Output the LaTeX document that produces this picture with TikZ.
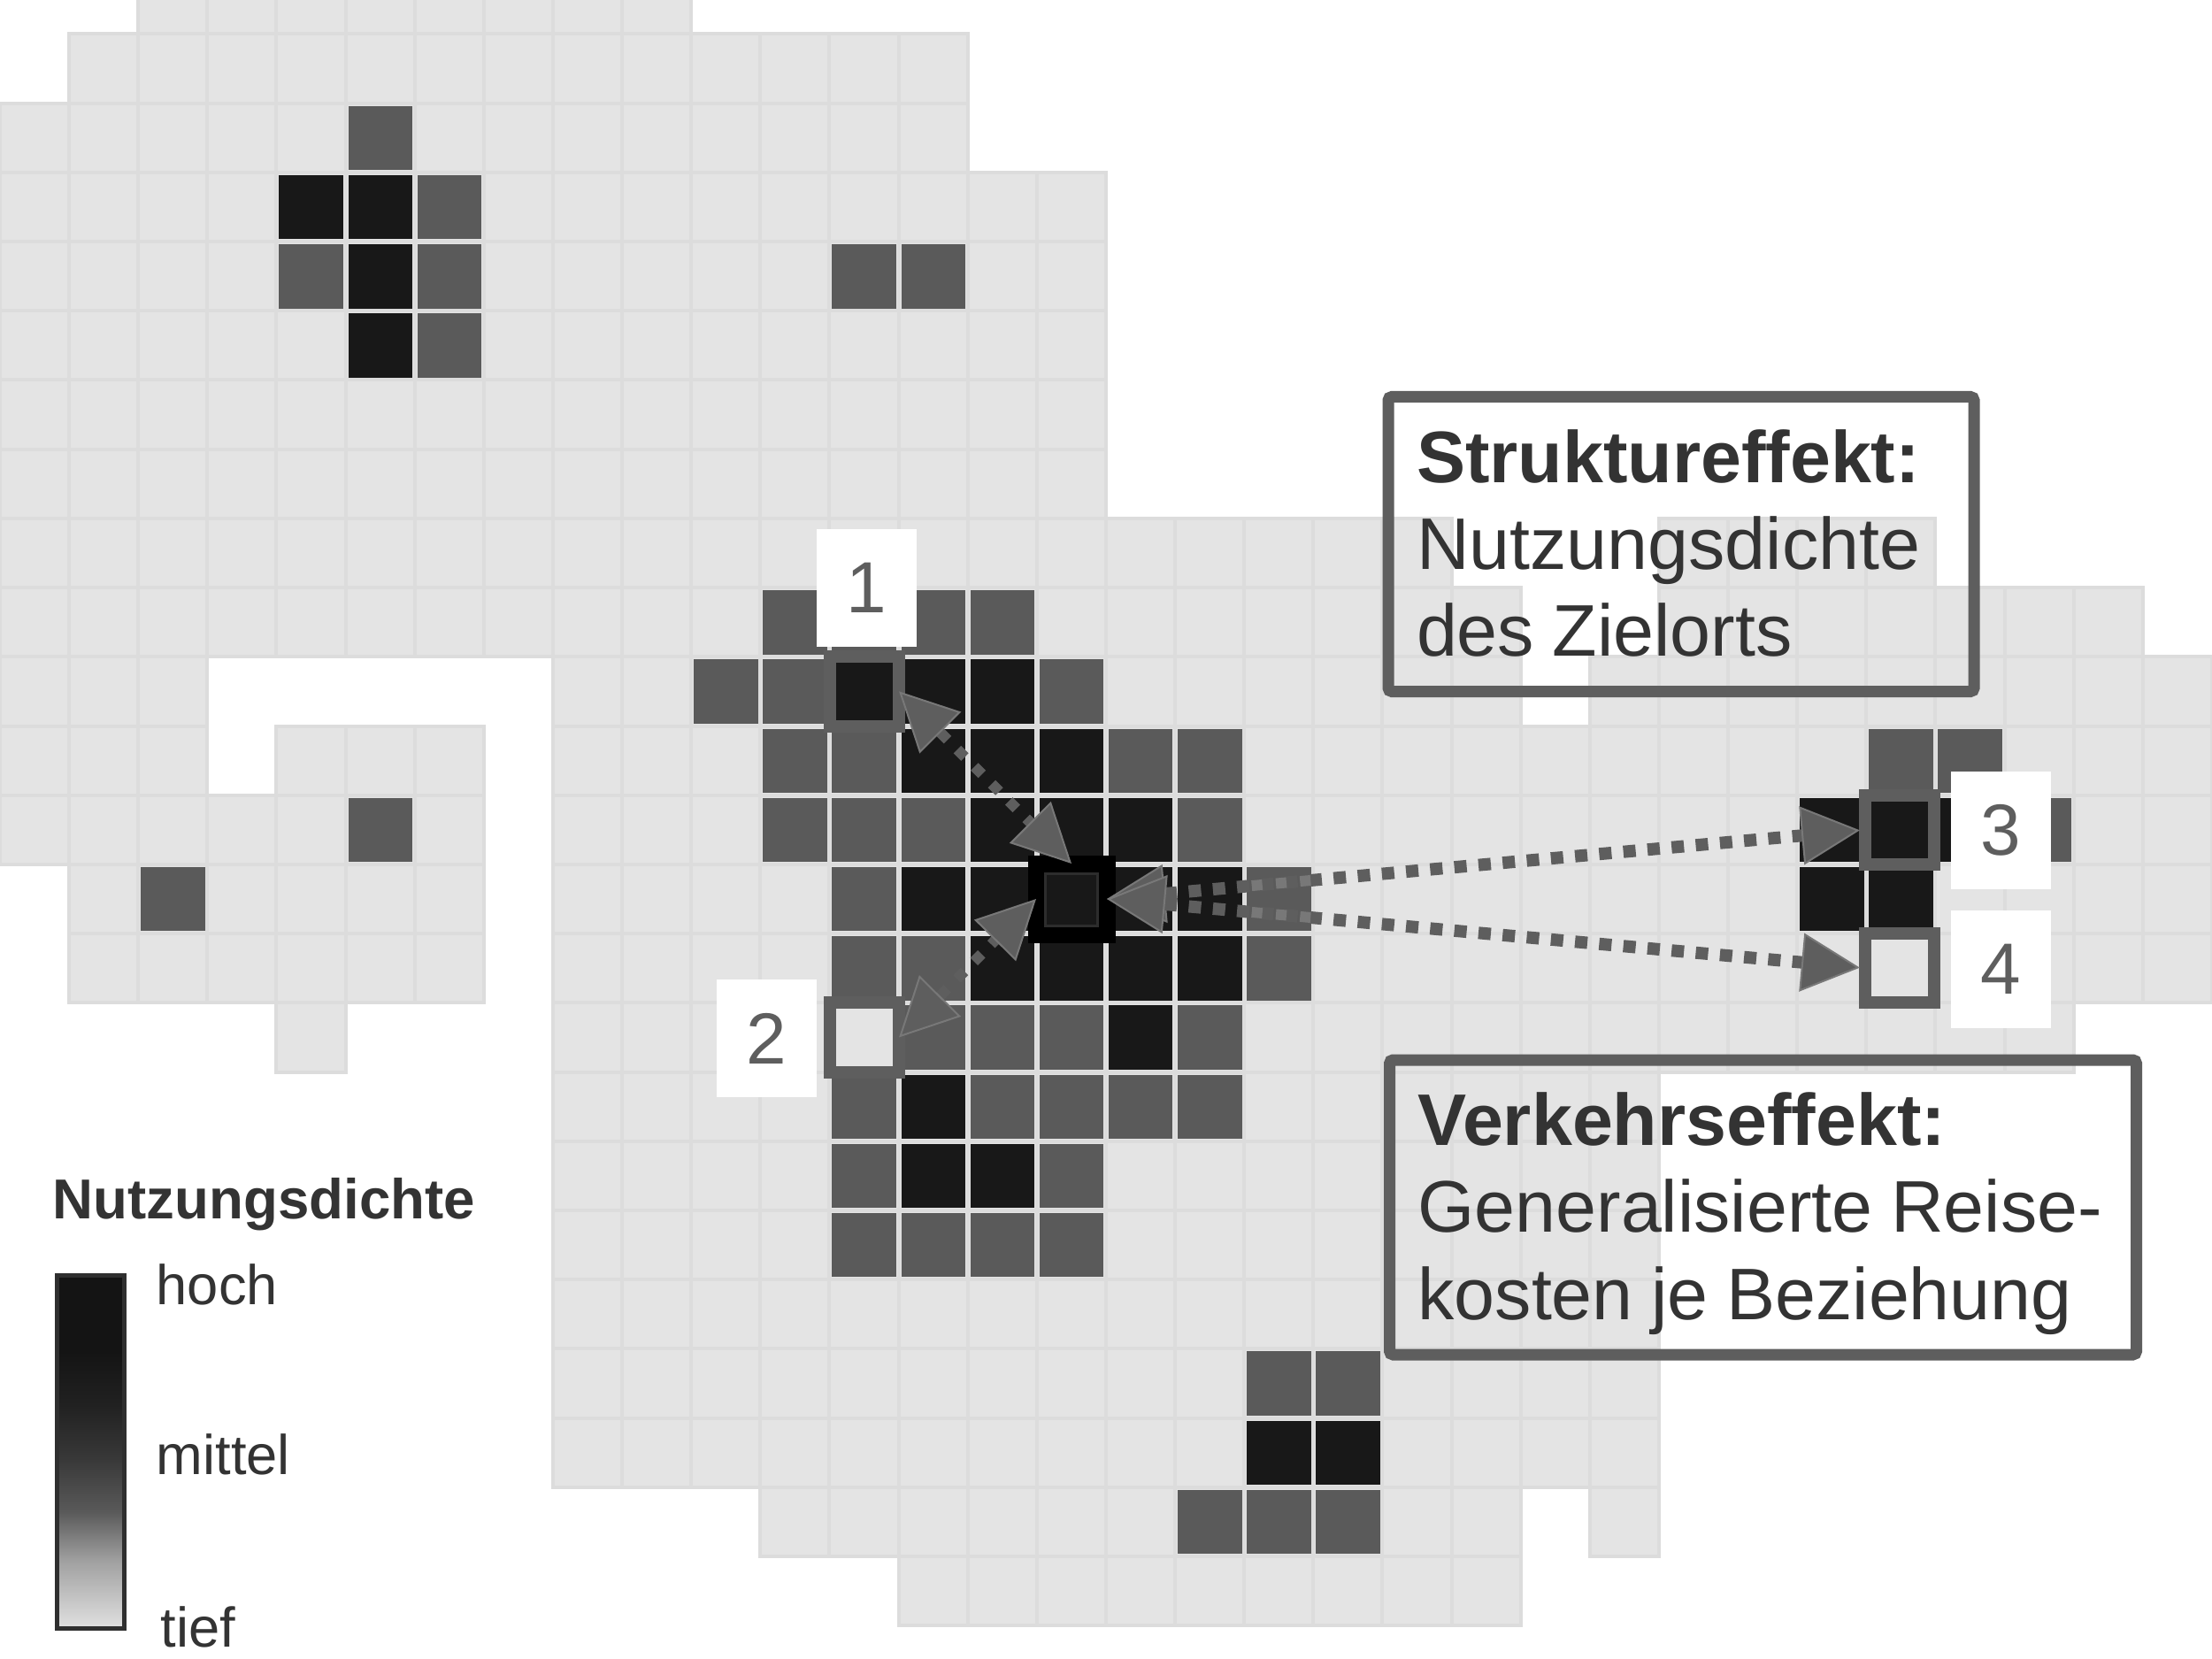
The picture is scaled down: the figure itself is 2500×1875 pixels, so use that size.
\documentclass[tikz,border=0pt]{standalone}
\usepackage{fontspec}
\setmainfont{Liberation Sans}
\usetikzlibrary{arrows.meta}

\definecolor{cellgrey}{HTML}{E4E4E4}
\definecolor{cellline}{HTML}{DCDCDC}
\definecolor{midgrey}{HTML}{5A5A5A}
\definecolor{darkgrey}{HTML}{181818}
\definecolor{framegrey}{HTML}{5E5E5E}
\definecolor{dotgrey}{HTML}{787878}
\definecolor{textgrey}{HTML}{333333}

\newcommand{\tightspace}{\spaceskip=.25em\relax}

\pgfdeclareverticalshading{densitybar}{100bp}{rgb(0bp)=(.88,.88,.88); rgb(25bp)=(.88,.88,.88);
    rgb(34.5bp)=(.63,.63,.63); rgb(41.5bp)=(.35,.35,.35); rgb(49bp)=(.22,.22,.22);
    rgb(56.5bp)=(.13,.13,.13); rgb(64bp)=(.08,.08,.08); rgb(100bp)=(.08,.08,.08)}

\tikzset{
    lightcell/.style = {fill = cellgrey, draw = cellline, line width = .4mm},
    midcell/.style = {fill = midgrey},
    darkcell/.style = {fill = darkgrey},
    place/.style = {shape = rectangle, draw = framegrey, line width = 1.4mm, inner sep = 0pt,
        outer sep = 0pt, minimum size = 7.82mm},
    number/.style = {shape = rectangle, fill = white, text = framegrey, inner sep = 0pt,
        minimum width = 11.3mm, minimum height = 13.3mm, font = \fontsize{23.3}{28}\selectfont},
    effectbox/.style = {shape = rectangle, draw = framegrey, line width = 1.3mm, rounded corners = .4mm,
        outer sep = 0pt, inner xsep = 3.2mm, inner ysep = 0pt, text width = #1, text = textgrey, align = left,
        minimum height = 33.3mm, font = \fontsize{23.5}{28}\selectfont},
    scalelabel/.style = {anchor = base west, inner sep = 0pt, text = textgrey,
        font = \fontsize{18}{20}\selectfont},
    link/.style = {color = framegrey, line width = 1.2mm, dash pattern = on 1.2mm off 1.55mm, <->,
        >={Triangle[length = 6.6mm, width = 6.6mm, line width = .2mm, color = dotgrey, fill = framegrey]}}
}

\begin{document}
\begin{tikzpicture}[x = .1mm, y = -.1mm]
    \useasboundingbox (0,0) rectangle (2500,1875);
    \clip (0,0) rectangle (2500,1875);

    % grid, row by row: row/first column/last column
    \foreach \row/\first/\last in {0/2/9, 1/1/13, 2/0/13, 3/0/15, 4/0/15, 5/0/15, 6/0/15, 7/0/15,
        8/0/20, 8/24/27, 9/0/21, 9/24/30, 10/0/2, 10/8/21, 10/23/31, 11/0/2, 11/4/6, 11/8/31,
        12/0/6, 12/8/31, 13/1/6, 13/8/31, 14/1/6, 14/8/31, 15/4/4, 15/8/29, 16/8/23, 17/8/23,
        18/8/23, 19/8/23, 20/8/23, 21/8/23, 22/11/21, 22/23/23, 23/13/21}
        \foreach \col in {\first,...,\last}
            \draw[lightcell] (78.12*\col,78.2*\row-39.7) rectangle +(78.12,78.2);

    \foreach \row/\cols in {2/5, 3/6, 4/{4,6,12,13}, 5/6, 9/{11,12,13,14}, 10/{10,11,15},
        11/{11,12,16,17,27,28}, 12/{5,11,12,13,17,29}, 13/{2,12,18}, 14/{12,13,18}, 15/{13,14,15,17},
        16/{12,14,15,16,17}, 17/{12,15}, 18/{12,13,14,15}, 20/{18,19}, 22/{17,18,19}}
        \foreach \col in \cols
            \fill[midcell] (78.12*\col+3,78.2*\row-36.7) rectangle +(72.5,72.5);

    \foreach \row/\cols in {3/{4,5}, 4/5, 5/5, 10/{12,13,14}, 11/{13,14,15}, 12/{14,15,16,26,27,28},
        13/{13,14,15,16,17,26,27}, 14/{14,15,16,17}, 15/16, 16/13, 17/{13,14}, 21/{18,19}}
        \foreach \col in \cols
            \fill[darkcell] (78.12*\col+3,78.2*\row-36.7) rectangle +(72.5,72.5);

    % numbers
    \node[number] (nr1) at (979.5,664.5) {1};
    \node[number] (nr2) at (866.5,1173.5) {2};
    \node[number] (nr3) at (2261.5,938.5) {3};
    \node[number] (nr4) at (2261.5,1095) {4};

    % marked cells
    \node[place] (ort1) at (977,781.4) {};
    \node[place] (ort2) at (977,1172.4) {};
    \node[place] (ort3) at (2147,937.8) {};
    \node[place] (ort4) at (2147,1094.2) {};
    \node[place, draw = black, line width = 1.9mm, minimum size = 8mm] (centre) at (1211,1016) {};
    \node[place, draw = midgrey!50!black, line width = .25mm, minimum size = 5.9mm] (centrein) at (1211,1017) {};

    % connections
    \draw[link] (ort1.east) -- (centre.north);
    \draw[link] (ort2.east) -- (centre.west);
    \draw[link, line width = 1.4mm, dash pattern = on 1.4mm off 1.34mm, shorten > = .6mm] (centre.east) -- (ort3.west);
    \draw[link, line width = 1.4mm, dash pattern = on 1.4mm off 1.34mm, shorten > = .6mm] (centre.east) -- (ort4.west);
    \begin{scope}
        \clip (78.12*18+3,977) rectangle +(72.5,78);
        \draw[dotgrey, line width = 1.2mm, dash pattern = on 1.2mm off 1.54mm] (centre.east) -- (ort3.west);
        \draw[dotgrey, line width = 1.2mm, dash pattern = on 1.2mm off 1.54mm] (centre.east) -- (ort4.west);
    \end{scope}

    % text boxes
    \node[effectbox = 59.8mm] (structure) at (1900,615) {\tightspace\rule{0pt}{7.4mm}\textbf{Struktureffekt:}\\Nutzungsdichte\\des Zielorts\vphantom{g}};
    \node[effectbox = 78mm] (traffic) at (1992.5,1364.5) {\tightspace\rule{0pt}{7.4mm}\textbf{Verkehrseffekt:}\\\mbox{Generalisierte Reise-}\\kosten je Beziehung\vphantom{g}};

    % legend
    \node[scalelabel, font = \fontsize{18.1}{20}\selectfont\bfseries] (scaletitle) at (59,1377) {Nutzungsdichte};
    \path[draw = darkgrey!90!white, line width = .5mm, shade, shading = densitybar] (64.5,1441) rectangle (140.5,1840);
    \node[scalelabel] (high) at (176,1474) {hoch};
    \node[scalelabel] (mid) at (176,1666.5) {mittel};
    \node[scalelabel] (low) at (181,1861) {tief};
\end{tikzpicture}
\end{document}
